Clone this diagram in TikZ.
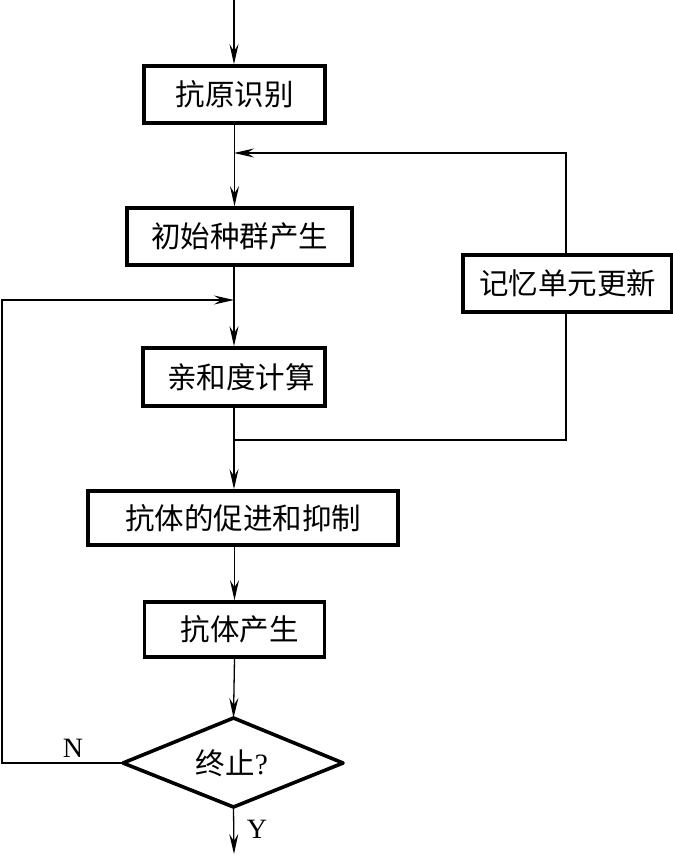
\documentclass[tikz,border=0pt]{standalone}
\usepackage{fontspec}
\setmainfont{Liberation Serif}
\newfontfamily\cjk{Noto Sans CJK SC}
\usetikzlibrary{arrows.meta}
\begin{document}
\begin{tikzpicture}[x=1pt,y=-1pt,
  box/.style={draw,line width=3.6pt,inner sep=0pt,font=\cjk\fontsize{29.5}{31}\selectfont},
  conn/.style={line width=1.3pt},
  arr/.style={conn,-{Stealth[length=20pt,width=9pt,inset=7pt]}},
  lbl/.style={font=\fontsize{28}{30}\selectfont}]
\useasboundingbox (0,0) rectangle (672,856);
% nodes
\node[box,minimum width=181pt,minimum height=57pt] (box1) at (234.5,94.5) {抗原识别};
\node[box,minimum width=225pt,minimum height=57pt] (box2) at (239.5,236.5) {初始种群产生};
\node[box,minimum width=182pt,minimum height=58pt] (box3) at (234,377) {\hspace{14pt}亲和度计算};
\node[box,minimum width=310pt,minimum height=54pt] (box4) at (243,518) {抗体的促进和抑制};
\node[box,minimum width=180pt,minimum height=55pt] (box5) at (234.5,629.5) {\hspace{10pt}抗体产生};
\node[box,minimum width=209pt,minimum height=57pt] (mem) at (567.5,283.5) {记忆单元更新};
% diamond
\coordinate (dl) at (123,763);
\coordinate (dr) at (343,763);
\coordinate (dt) at (233.5,718);
\coordinate (db) at (233.5,807);
\draw[line width=3.6pt,line join=round] (dl) -- (dt) -- (dr) -- (db) -- cycle;
\node[font=\fontsize{29.5}{31}\selectfont] (dec) at (232,763) {{\cjk 终止}?};
% coordinates
\coordinate (top) at (234,0);
\coordinate (j1) at (234,153);
\coordinate (j2) at (234,300);
\coordinate (j3) at (234,440);
\coordinate (lc) at (2,763);
\coordinate (endY) at (234,854);
% connectors
\draw[arr] (top) -- (top |- box1.north);
\draw[arr] (box1.south) -- (box1.south |- box2.north);
\draw[arr] (mem.north -| 566,0) -- (566,153) -- (j1);
\draw[arr] (dl) -- (lc) -- (lc |- j2) -- (j2);
\draw[arr] (box2.south -| j2) -- (box3.north);
\draw[arr] (box3.south) -- (box3.south |- box4.north);
\draw[conn] (j3) -- (566,440) -- (mem.south -| 566,0);
\draw[arr] (box4.south -| box5.north) -- (box5.north);
\draw[arr] (box5.south) -- (dt);
\draw[arr] (db) -- (endY);
% labels
\node[lbl] (nlab) at (73,748) {N};
\node[lbl] (ylab) at (257,829) {Y};
\end{tikzpicture}
\end{document}
